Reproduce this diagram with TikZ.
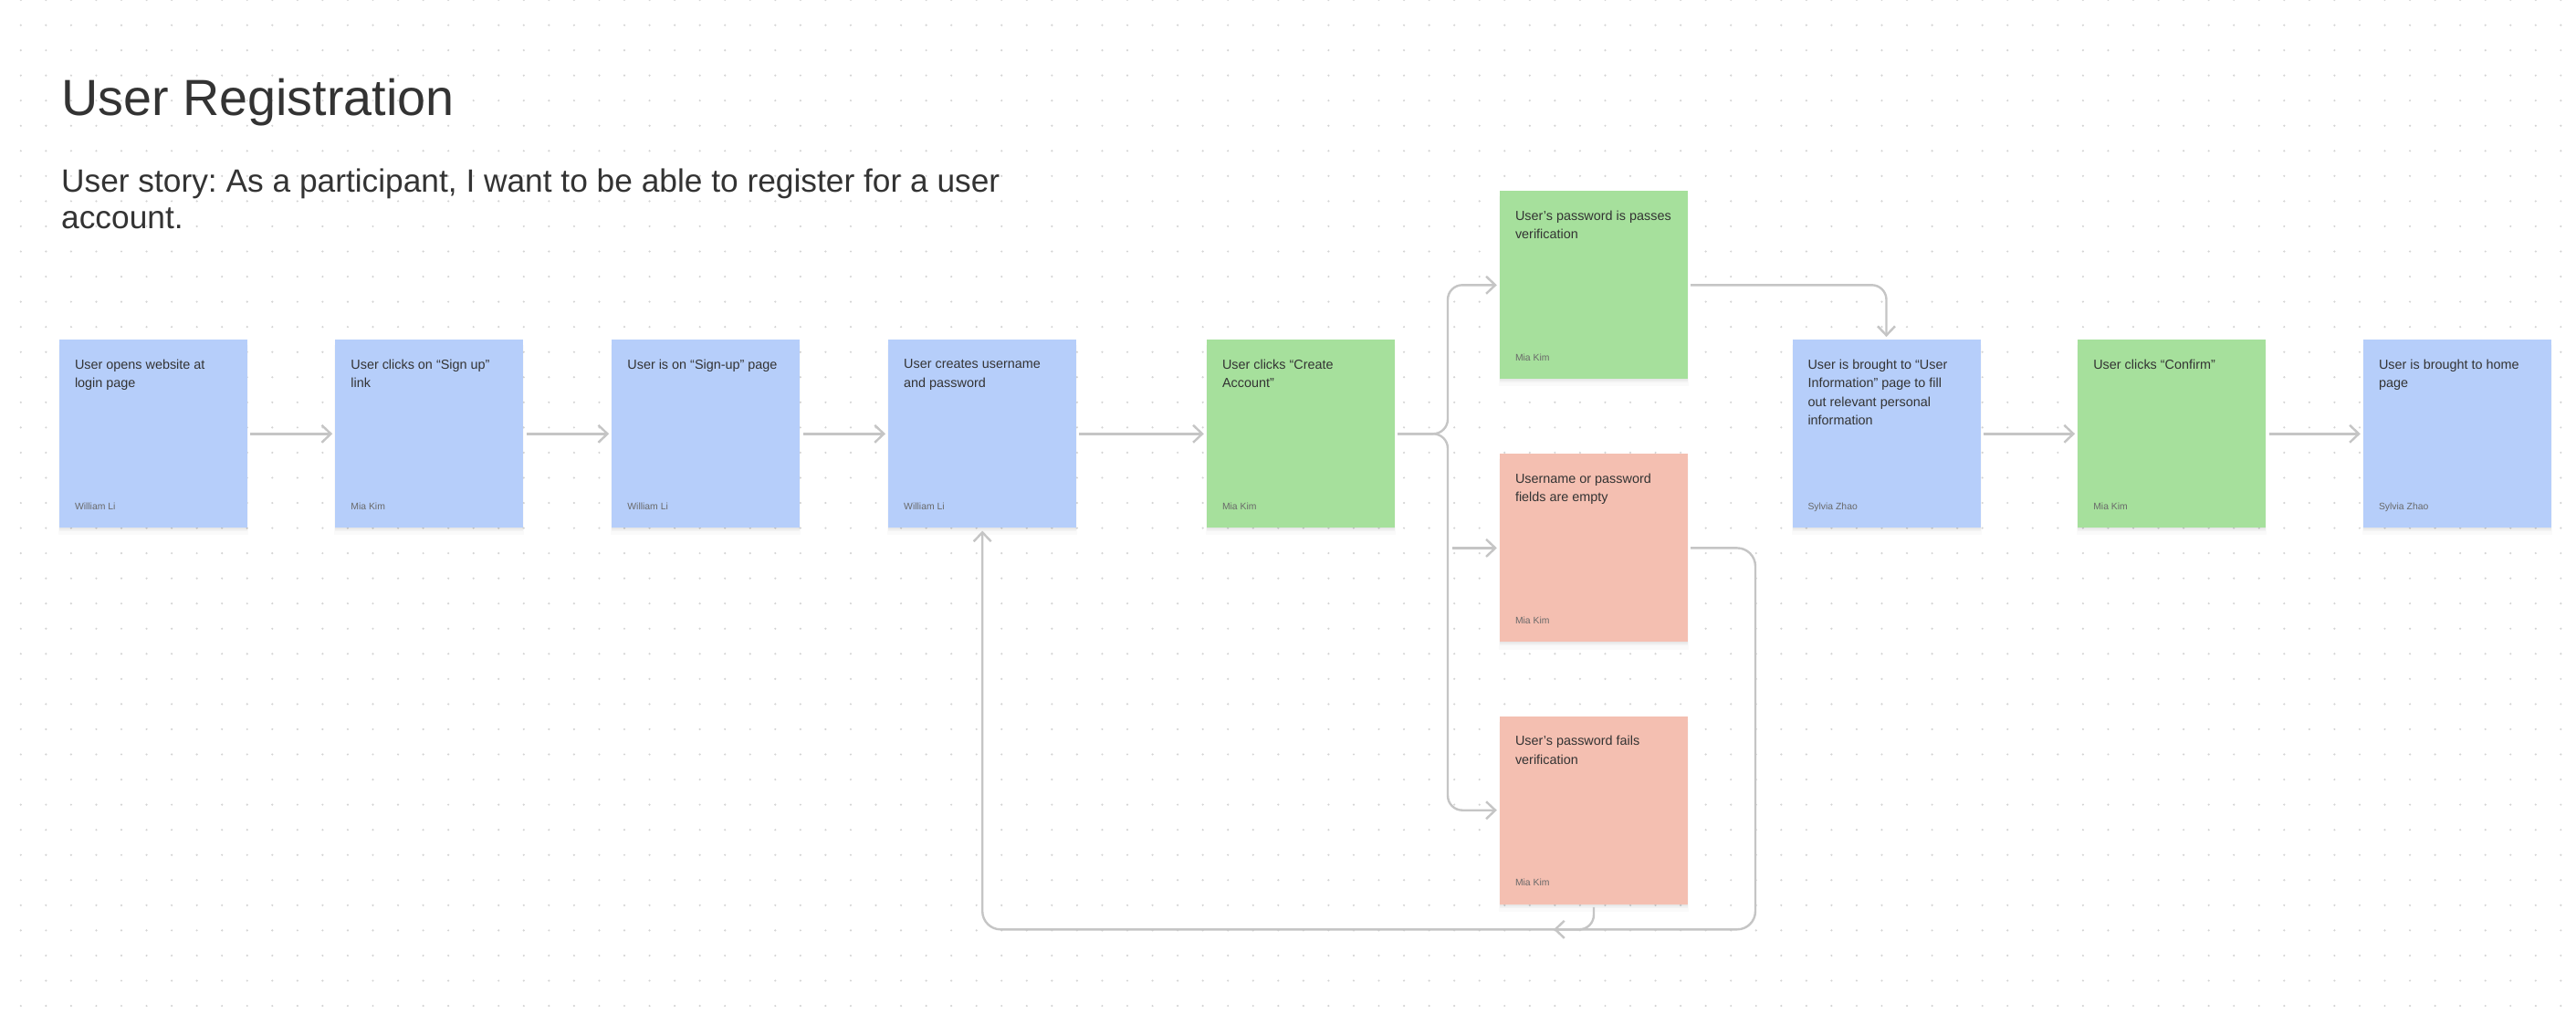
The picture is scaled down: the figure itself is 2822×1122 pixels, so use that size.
\documentclass[tikz,border=0pt]{standalone}
\usepackage{fontspec}
\setmainfont{Liberation Sans}
\frenchspacing
\usetikzlibrary{arrows.meta,shadows}
\definecolor{noteblue}{RGB}{182,206,250}
\definecolor{notegreen}{RGB}{166,224,156}
\definecolor{notered}{RGB}{244,191,177}
\definecolor{inkgray}{RGB}{51,51,51}
\definecolor{namegray}{RGB}{105,105,105}
\definecolor{wiregray}{RGB}{197,197,197}
\definecolor{dotgray}{RGB}{212,212,212}

\begin{document}
\begin{tikzpicture}[x=1pt,y=-1pt,
	note/.style={rectangle, minimum width=206pt, minimum height=206pt, inner sep=0pt,
		drop shadow={shadow xshift=0pt, shadow yshift=-2pt, fill=black, opacity=0.04},
		drop shadow={shadow xshift=0pt, shadow yshift=-4pt, fill=black, opacity=0.03},
		drop shadow={shadow xshift=0pt, shadow yshift=-7pt, shadow scale=1.01, fill=black, opacity=0.02}},
	notetext/.style={anchor=north west, inner sep=0pt, align=left, text=inkgray,
		font=\fontsize{14.4}{20.5}\selectfont},
	notename/.style={anchor=base west, inner sep=0pt, text=namegray,
		font=\fontsize{10.4}{12}\selectfont},
	wire/.style={draw=wiregray, line width=2.4pt, -{Straight Barb[length=10pt,width=19pt]},
		shorten >=3pt, shorten <=3pt}]

		\useasboundingbox (0,0) rectangle (2822,1122);
		\fill[white] (0,0) rectangle (2822,1122);
		\foreach \i in {0,...,101}
			\foreach \j in {0,...,40}
				\fill[dotgray] (22.8+27.55*\i,27.55*\j) circle (1.2pt);

		\node[anchor=base west, inner sep=0pt, text=inkgray, font=\fontsize{55.7}{66}\selectfont] (title) at (67,126) {User Registration};
		\node[anchor=north west, inner sep=0pt, align=left, text=inkgray, font=\fontsize{35.3}{40}\selectfont] (story) at (67,184.5) {User story: As a participant, I want to be able to register for a user\\account.};

		\node[note, fill=noteblue] (A) at (168,475.3) {};
		\node[notetext] (TA) at ([xshift=17pt, yshift=-21.5pt]A.north west) {User opens website at\\login page};
		\node[notename] (NA) at ([xshift=17pt, yshift=20.5pt]A.south west) {William Li};

		\node[note, fill=noteblue] (B) at (470.4,475.3) {};
		\node[notetext] (TB) at ([xshift=17pt, yshift=-21.5pt]B.north west) {User clicks on “Sign up”\\link};
		\node[notename] (NB) at ([xshift=17pt, yshift=20.5pt]B.south west) {Mia Kim};

		\node[note, fill=noteblue] (C) at (773.4,475.3) {};
		\node[notetext] (TC) at ([xshift=17pt, yshift=-21.5pt]C.north west) {User is on “Sign-up” page};
		\node[notename] (NC) at ([xshift=17pt, yshift=20.5pt]C.south west) {William Li};

		\node[note, fill=noteblue] (D) at (1076.2,475.3) {};
		\node[notetext] (TD) at ([xshift=17pt, yshift=-21.5pt]D.north west) {User creates username\\and password};
		\node[notename] (ND) at ([xshift=17pt, yshift=20.5pt]D.south west) {William Li};

		\node[note, fill=notegreen] (E) at (1425,475.3) {};
		\node[notetext] (TE) at ([xshift=17pt, yshift=-21.5pt]E.north west) {User clicks “Create\\Account”};
		\node[notename] (NE) at ([xshift=17pt, yshift=20.5pt]E.south west) {Mia Kim};

		\node[note, fill=notegreen] (F) at (1746,312.3) {};
		\node[notetext] (TF) at ([xshift=17pt, yshift=-21.5pt]F.north west) {User’s password is passes\\verification};
		\node[notename] (NF) at ([xshift=17pt, yshift=20.5pt]F.south west) {Mia Kim};

		\node[note, fill=notered] (G) at (1746,600.4) {};
		\node[notetext] (TG) at ([xshift=17pt, yshift=-21.5pt]G.north west) {Username or password\\fields are empty};
		\node[notename] (NG) at ([xshift=17pt, yshift=20.5pt]G.south west) {Mia Kim};

		\node[note, fill=notered] (H) at (1746,887.7) {};
		\node[notetext] (TH) at ([xshift=17pt, yshift=-21.5pt]H.north west) {User’s password fails\\verification};
		\node[notename] (NH) at ([xshift=17pt, yshift=20.5pt]H.south west) {Mia Kim};

		\node[note, fill=noteblue] (I) at (2066.5,475.3) {};
		\node[notetext] (TI) at ([xshift=17pt, yshift=-21.5pt]I.north west) {User is brought to “User\\Information” page to fill\\out relevant personal\\information};
		\node[notename] (NI) at ([xshift=17pt, yshift=20.5pt]I.south west) {Sylvia Zhao};

		\node[note, fill=notegreen] (J) at (2379.3,475.3) {};
		\node[notetext] (TJ) at ([xshift=17pt, yshift=-21.5pt]J.north west) {User clicks “Confirm”};
		\node[notename] (NJ) at ([xshift=17pt, yshift=20.5pt]J.south west) {Mia Kim};

		\node[note, fill=noteblue] (K) at (2692,475.3) {};
		\node[notetext] (TK) at ([xshift=17pt, yshift=-21.5pt]K.north west) {User is brought to home\\page};
		\node[notename] (NK) at ([xshift=17pt, yshift=20.5pt]K.south west) {Sylvia Zhao};

		\draw[wire] (A) -- (B);
		\draw[wire] (B) -- (C);
		\draw[wire] (C) -- (D);
		\draw[wire] (D) -- (E);
		\draw[wire] (I) -- (J);
		\draw[wire] (J) -- (K);

		\coordinate (fork) at (1586,475.3);
		\draw[wire, rounded corners=16pt] (E.east) -- (fork) |- (F.west);
		\draw[wire, rounded corners=16pt] (E.east) -- (fork) |- (H.west);
		\draw[wire, shorten <=5pt] (fork |- G.west) -- (G.west);
		\draw[wire, rounded corners=16pt] (F.east) -| (I.north);

		\coordinate (loop) at (1923,1018.3);
		\coordinate (join) at (1702,1018.3);
		\draw[wire, rounded corners=20pt] (G.east) -| (loop) -| (D.south);
		\draw[wire, shorten >=0pt, rounded corners=16pt] (H.south) |- (join);
\end{tikzpicture}
\end{document}
